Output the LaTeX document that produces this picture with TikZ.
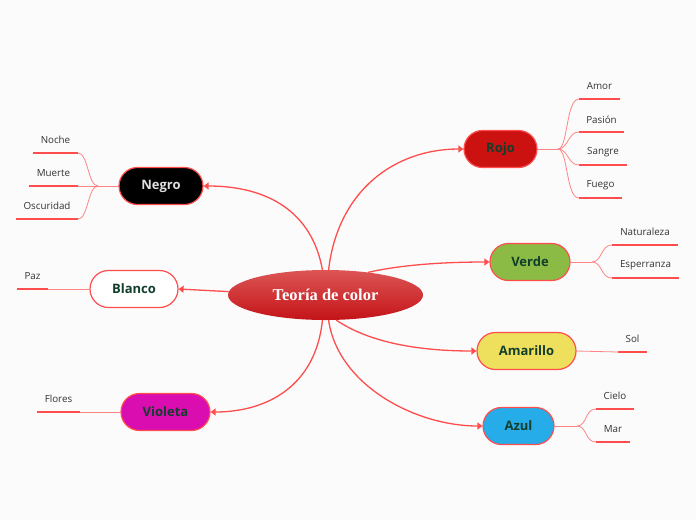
\documentclass[tikz,border=0pt]{standalone}
\usepackage{fontspec}
\setsansfont{Open Sans}
\newfontfamily\titlefont{Liberation Serif}
\usetikzlibrary{shapes.misc,shapes.geometric,arrows.meta}
\definecolor{bg}{HTML}{FBFBFB}
\definecolor{lred}{HTML}{FF4D4D}
\definecolor{thinred}{HTML}{FF8585}
\definecolor{dgreen}{HTML}{123F2C}
\definecolor{txt}{HTML}{333333}
\definecolor{cnegro}{HTML}{000000}
\definecolor{crojo}{HTML}{CC1111}
\definecolor{cverde}{HTML}{8BBB45}
\definecolor{camar}{HTML}{EEE05C}
\definecolor{cviol}{HTML}{D90DB0}
\definecolor{cazul}{HTML}{26ACE8}
\definecolor{ctop}{HTML}{DC5555}
\definecolor{cbot}{HTML}{C41418}
\begin{document}
\begin{tikzpicture}[x=1pt,y=-1pt,
  topic/.style={rounded rectangle, draw=lred, line width=1.2pt, minimum height=37pt, inner sep=0pt,
    font=\sffamily\bfseries\fontsize{13}{15}\selectfont, text=dgreen},
  sub/.style={minimum height=25pt, inner sep=0pt, anchor=south,
    font=\sffamily\fontsize{9.8}{11}\selectfont, text=txt},
  uline/.style={draw=lred, line width=2.8pt},
  mainc/.style={draw=lred, line width=1.3pt, -{Triangle[length=5pt,width=7pt]}},
  branch/.style={draw=thinred, line width=0.8pt}]
\fill[bg] (0,0) rectangle (696,520);
\useasboundingbox (0,0) rectangle (696,520);

% central
\node[ellipse, minimum width=195pt, minimum height=50pt, inner sep=0pt,
  top color=ctop, bottom color=cbot, text=white,
  font=\titlefont\bfseries\fontsize{16.5}{18}\selectfont] (c) at (325.5,295) {Teoría de color};

% topics
\node[topic, fill=cnegro, text=white!88!black, minimum width=84pt] (negro) at (161,186) {Negro};
\node[topic, fill=crojo, minimum width=73pt] (rojo) at (500.5,149) {Rojo};
\node[topic, fill=cverde, minimum width=80pt] (verde) at (530,262) {Verde};
\node[topic, fill=white, minimum width=88pt] (blanco) at (134,289) {Blanco};
\node[topic, fill=camar, minimum width=99pt] (amar) at (526.5,351) {Amarillo};
\node[topic, fill=cviol, minimum width=89pt] (viol) at (165.5,412) {Violeta};
\node[topic, fill=cazul, minimum width=71pt] (azul) at (518.5,426) {Azul};

% main connectors
\draw[mainc] (c.97) .. controls (312,212) and (268,186) .. (negro.east);
\draw[mainc] (c.83) .. controls (338,190) and (395,149) .. (rojo.west);
\draw[mainc] (c.28) .. controls (405,264) and (450,262) .. (verde.west);
\draw[mainc] (c.178) -- (blanco.east);
\draw[mainc] (c.263) .. controls (316,385) and (268,412) .. (viol.east);
\draw[mainc] (c.277) .. controls (338,385) and (415,426) .. (azul.west);
\draw[mainc] (c.293) .. controls (370,343) and (420,351) .. (amar.west);

% subtopics
\node[sub, minimum width=45pt] (noche) at (55.5,153) {Noche};
\node[sub, minimum width=49pt] (muerte) at (53.5,186) {Muerte};
\node[sub, minimum width=62pt] (oscur) at (47,219) {Oscuridad};
\node[sub, minimum width=41pt] (amor) at (599.5,99) {Amor};
\node[sub, minimum width=45pt] (pasion) at (601.5,132) {Pasión};
\node[sub, minimum width=48pt] (sangre) at (603,165) {Sangre};
\node[sub, minimum width=43pt] (fuego) at (600.5,198) {Fuego};
\node[sub, minimum width=66pt] (natur) at (645,245) {Naturaleza};
\node[sub, minimum width=67pt] (esper) at (645.5,278) {Esperranza};
\node[sub, minimum width=31pt] (paz) at (32.5,289) {Paz};
\node[sub, minimum width=29pt] (sol) at (632.5,352) {Sol};
\node[sub, minimum width=43pt] (flores) at (58.5,412) {Flores};
\node[sub, minimum width=38pt] (cielo) at (615,409) {Cielo};
\node[sub, minimum width=34pt] (mar) at (613,442) {Mar};

\foreach \n in {noche,muerte,oscur,amor,pasion,sangre,fuego,natur,esper,paz,sol,flores,cielo,mar}
  \draw[uline] (\n.south west) -- (\n.south east);

% branch lines
\coordinate (jn) at (98,186);
\draw[branch] (negro.west) -- (jn);
\draw[branch] (jn) .. controls (88,186) and (88,153) .. (noche.south east);
\draw[branch] (jn) -- (muerte.south east);
\draw[branch] (jn) .. controls (88,186) and (88,219) .. (oscur.south east);

\coordinate (jr) at (558,149);
\draw[branch] (rojo.east) -- (jr);
\draw[branch] (jr) .. controls (568,149) and (566,99) .. (amor.south west);
\draw[branch] (jr) .. controls (568,149) and (568,132) .. (pasion.south west);
\draw[branch] (jr) .. controls (568,149) and (568,165) .. (sangre.south west);
\draw[branch] (jr) .. controls (568,149) and (566,198) .. (fuego.south west);

\coordinate (jv) at (592,262);
\draw[branch] (verde.east) -- (jv);
\draw[branch] (jv) .. controls (602,262) and (601,245) .. (natur.south west);
\draw[branch] (jv) .. controls (602,262) and (601,278) .. (esper.south west);

\coordinate (ja) at (577,426);
\draw[branch] (azul.east) -- (ja);
\draw[branch] (ja) .. controls (587,426) and (585,409) .. (cielo.south west);
\draw[branch] (ja) .. controls (587,426) and (585,442) .. (mar.south west);

\draw[branch] (blanco.west) -- (paz.south east);
\draw[branch] (amar.east) -- (sol.south west);
\draw[branch] (viol.west) -- (flores.south east);
\end{tikzpicture}
\end{document}
